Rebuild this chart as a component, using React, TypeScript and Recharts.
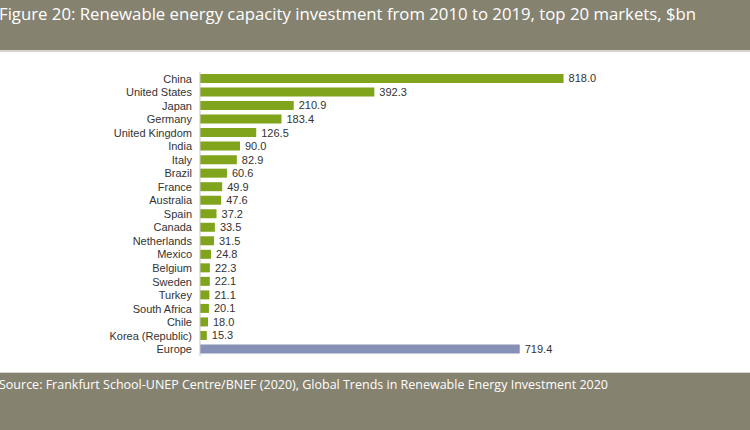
import { Bar, BarChart, Cell, LabelList, XAxis, YAxis } from "recharts";

const markets = [
  "China",
  "United States",
  "Japan",
  "Germany",
  "United Kingdom",
  "India",
  "Italy",
  "Brazil",
  "France",
  "Australia",
  "Spain",
  "Canada",
  "Netherlands",
  "Mexico",
  "Belgium",
  "Sweden",
  "Turkey",
  "South Africa",
  "Chile",
  "Korea (Republic)",
  "Europe",
];

const investment = [
  818.0, 392.3, 210.9, 183.4, 126.5, 90.0, 82.9, 60.6, 49.9, 47.6, 37.2, 33.5, 31.5, 24.8, 22.3,
  22.1, 21.1, 20.1, 18.0, 15.3, 719.4,
];

const aggregates = ["Europe"];

const title = "Figure 20: Renewable energy capacity investment from 2010 to 2019, top 20 markets, $bn";
const source =
  "Source: Frankfurt School-UNEP Centre/BNEF (2020), Global Trends in Renewable Energy Investment 2020";

const data = markets.map((market, i) => ({ market, value: investment[i] }));

const BAND = "#868270";
const GREEN = "#80a51c";
const BLUE = "#8790b6";

export default function App() {
  return (
    <div
      style={{
        position: "absolute",
        left: 0,
        top: 0,
        width: 750,
        height: 430,
        background: "#ffffff",
        overflow: "hidden",
      }}
    >
      <svg width={750} height={52} style={{ position: "absolute", left: 0, top: 0 }}>
        <rect x={0} y={0} width={750} height={50} fill={BAND} />
        <rect x={0} y={50} width={750} height={2} fill="#d6d4cc" />
        <text
          x={-1}
          y={20}
          fill="#ffffff"
          fontFamily="Open Sans, sans-serif"
          fontSize={17}
          textLength={697}
          lengthAdjust="spacingAndGlyphs"
        >
          {title}
        </text>
      </svg>

      <div style={{ position: "absolute", left: 0, top: 52 }}>
        <BarChart
          width={750}
          height={320}
          data={data}
          layout="vertical"
          margin={{ top: 20, right: 150, bottom: 16, left: 0 }}
          barSize={9}
        >
          <XAxis type="number" domain={[0, 900]} hide />
          <YAxis
            type="category"
            dataKey="market"
            width={200}
            tickSize={0}
            tickMargin={8}
            tickLine={false}
            axisLine={{ stroke: "#c8c8c8" }}
            interval={0}
            tick={{ fill: "#333333", fontSize: 11, fontFamily: "Liberation Sans, Arial, sans-serif" }}
          />
          <Bar dataKey="value" isAnimationActive={false}>
            {data.map((d) => (
              <Cell key={d.market} fill={aggregates.includes(d.market) ? BLUE : GREEN} />
            ))}
            <LabelList
              dataKey="value"
              position="right"
              offset={5}
              formatter={(v: number) => v.toFixed(1)}
              style={{ fill: "#333333", fontSize: 11, fontFamily: "Liberation Sans, Arial, sans-serif" }}
            />
          </Bar>
        </BarChart>
      </div>

      <svg width={750} height={58} style={{ position: "absolute", left: 0, top: 372 }}>
        <rect x={0} y={0} width={750} height={1} fill="#d6d4cc" />
        <rect x={0} y={1} width={750} height={57} fill={BAND} />
        <text
          x={-1}
          y={17}
          fill="#ffffff"
          fontFamily="Open Sans, sans-serif"
          fontSize={13}
          textLength={609}
          lengthAdjust="spacingAndGlyphs"
        >
          {source}
        </text>
      </svg>
    </div>
  );
}
